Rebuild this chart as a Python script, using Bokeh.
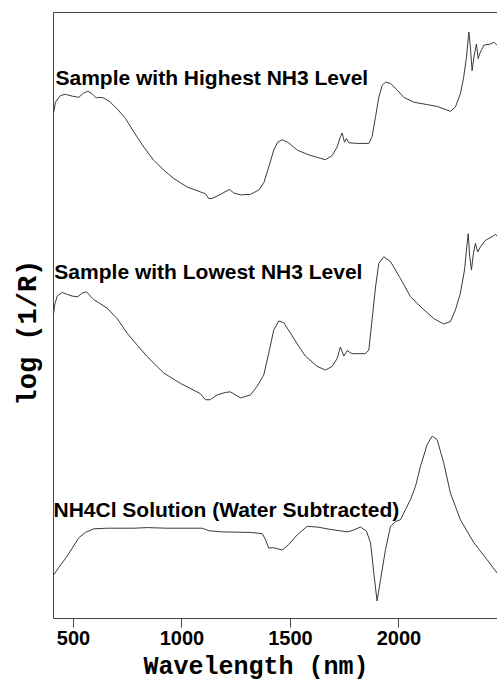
import math

from bokeh.embed import file_html
from bokeh.models import FixedTicker, Label, LinearAxis, Range1d, Title
from bokeh.plotting import figure
from bokeh.resources import INLINE

# NIR spectra, wavelength in nm and log(1/R) in stacked arbitrary units
wl_high = [409, 417, 440, 463, 494, 524, 547, 566, 586, 605, 617, 640, 670, 701, 740,
           778, 824, 870, 916, 962, 1024, 1085, 1108, 1123, 1139, 1162, 1193, 1220, 1239,
           1270, 1316, 1354, 1377, 1400, 1423, 1441, 1462, 1492, 1531, 1577, 1623, 1661,
           1692, 1715, 1730, 1738, 1749, 1758, 1769, 1807, 1861, 1876, 1892, 1907, 1923,
           1938, 1961, 1992, 2022, 2068, 2130, 2176, 2214, 2237, 2260, 2283, 2298, 2311,
           2322, 2329, 2337, 2345, 2357, 2365, 2372, 2391, 2422, 2437, 2452]
logr_high = [83.5, 85.2, 86.3, 86.5, 86.2, 86.0, 86.7, 87.0, 86.6, 85.9, 86.0, 85.9, 85.2,
             84.1, 82.5, 80.3, 77.8, 75.6, 74.0, 72.6, 71.2, 70.4, 70.1, 69.3, 69.3, 69.7,
             70.3, 70.8, 70.2, 69.9, 70.0, 70.7, 71.9, 74.5, 77.3, 78.6, 79.0, 78.5, 77.3,
             76.6, 76.1, 75.7, 76.4, 77.8, 79.5, 80.1, 78.6, 79.2, 78.5, 78.4, 78.4, 79.5,
             82.8, 86.0, 88.0, 88.5, 88.3, 87.2, 86.0, 85.2, 84.8, 84.5, 84.0, 83.7, 84.4,
             86.6, 89.3, 92.6, 96.8, 94.3, 90.4, 92.6, 94.8, 92.4, 93.2, 94.6, 94.8, 95.1,
             94.6]

wl_low = [409, 413, 425, 448, 471, 494, 520, 540, 560, 578, 594, 617, 655, 701, 747, 794,
          840, 916, 993, 1085, 1108, 1131, 1162, 1200, 1223, 1270, 1316, 1346, 1377, 1400,
          1423, 1446, 1469, 1500, 1538, 1569, 1623, 1661, 1692, 1715, 1730, 1746, 1761,
          1784, 1845, 1861, 1876, 1892, 1907, 1930, 1961, 2007, 2053, 2107, 2160, 2206,
          2237, 2260, 2283, 2302, 2314, 2319, 2326, 2334, 2342, 2352, 2363, 2375, 2398,
          2429, 2445, 2454]
logr_low = [50.4, 51.7, 53.2, 53.8, 53.5, 53.2, 53.1, 53.7, 53.9, 53.2, 52.6, 52.1, 51.2,
            49.5, 47.1, 45.1, 43.2, 40.5, 38.8, 37.1, 36.1, 36.1, 36.9, 37.3, 37.4, 36.4,
            36.9, 38.3, 40.2, 43.8, 47.6, 49.1, 48.8, 47.1, 44.9, 43.3, 41.6, 41.0, 41.6,
            42.9, 44.8, 43.3, 44.2, 43.7, 43.7, 44.3, 49.3, 54.7, 58.6, 59.7, 58.9, 56.1,
            53.1, 51.2, 49.5, 48.6, 49.0, 50.9, 53.7, 57.5, 61.9, 63.5, 59.7, 57.5, 60.0,
            61.9, 60.5, 61.3, 62.4, 63.0, 63.4, 63.0]

wl_nh4cl = [409, 432, 471, 494, 524, 555, 594, 655, 778, 840, 932, 1024, 1093, 1123, 1177,
            1316, 1370, 1385, 1400, 1416, 1431, 1462, 1492, 1531, 1577, 1623, 1684, 1761,
            1784, 1823, 1850, 1869, 1884, 1899, 1915, 1938, 1961, 1984, 2007, 2030, 2053,
            2076, 2099, 2130, 2153, 2176, 2206, 2237, 2283, 2345, 2406, 2452]
logr_nh4cl = [7.2, 8.4, 10.3, 11.6, 13.3, 14.2, 14.8, 14.9, 14.9, 15.0, 14.9, 14.9, 14.9,
              14.5, 14.3, 14.2, 14.0, 13.0, 11.6, 11.7, 11.6, 11.3, 12.2, 13.8, 15.2, 15.1,
              14.7, 14.3, 14.5, 15.1, 14.4, 12.5, 7.5, 2.9, 6.4, 11.4, 15.2, 16.0, 16.3,
              18.0, 19.6, 21.8, 25.1, 28.7, 30.1, 29.5, 25.7, 20.7, 16.3, 12.5, 9.7, 7.5]

tick_values = [500, 1000, 1500, 2000]
panel_titles = ["Sample with Highest NH3 Level",
                "Sample with Lowest NH3 Level",
                "NH4Cl Solution (Water Subtracted)"]
x_title = "Wavelength (nm)"
y_title = "log (1/R)"

AXIS_COLOR = "#444444"
TRACE_COLOR = "#3a3a3a"

p = figure(width=497, height=684, output_backend="svg", toolbar_location=None,
           x_range=Range1d(408, 2454), y_range=Range1d(0, 100),
           min_border_left=53, min_border_right=0, min_border_top=12,
           min_border_bottom=65)
p.outline_line_color = None
p.grid.visible = False
p.background_fill_color = "white"
p.border_fill_color = "white"

# bottom wavelength axis
xa = p.xaxis[0]
xa.ticker = FixedTicker(ticks=tick_values)
xa.major_tick_in = 0
xa.major_tick_out = 9
xa.major_tick_line_color = AXIS_COLOR
xa.minor_tick_line_color = None
xa.axis_line_color = AXIS_COLOR
xa.major_label_text_font = "Liberation Sans"
xa.major_label_text_font_style = "bold"
xa.major_label_text_font_size = "20px"
xa.major_label_text_color = "black"
xa.major_label_standoff = 3

# bare left axis line
ya = p.yaxis[0]
ya.ticker = FixedTicker(ticks=[])
ya.major_tick_in = 0
ya.major_tick_out = 0
ya.major_tick_line_color = None
ya.minor_tick_line_color = None
ya.major_label_text_font_size = "0px"
ya.major_label_standoff = 0
ya.axis_line_color = AXIS_COLOR

# top frame line
top = LinearAxis(ticker=FixedTicker(ticks=[]), major_tick_line_color=None,
                 minor_tick_line_color=None, major_label_text_font_size="0px",
                 major_tick_out=0, major_tick_in=0, major_label_standoff=0,
                 axis_line_color=AXIS_COLOR)
p.add_layout(top, "above")

for wl, lr in ((wl_high, logr_high), (wl_low, logr_low), (wl_nh4cl, logr_nh4cl)):
    p.line(wl, lr, line_color=TRACE_COLOR, line_width=1)

# panel captions, left-aligned above each trace
for text, (tx, ty) in zip(panel_titles, [(417, 89.3), (412, 57.3), (408, 18.0)]):
    p.add_layout(Label(x=tx, y=ty, text=text, text_font="Liberation Sans",
                       text_font_style="bold", text_font_size="21px",
                       text_color="black", text_align="left",
                       text_baseline="alphabetic"))

# axis titles in a bold monospace face
p.add_layout(Title(text=x_title, align="left", offset=90, standoff=6,
                   vertical_align="bottom",
                   text_font="Liberation Mono", text_font_style="bold",
                   text_font_size="25px", text_color="black"), "below")
p.add_layout(Title(text=y_title, align="left", offset=213, standoff=16,
                   vertical_align="top",
                   text_font="Liberation Mono", text_font_style="bold",
                   text_font_size="27px", text_color="black"), "left")

open("out.html", "w").write(file_html(p, INLINE))
